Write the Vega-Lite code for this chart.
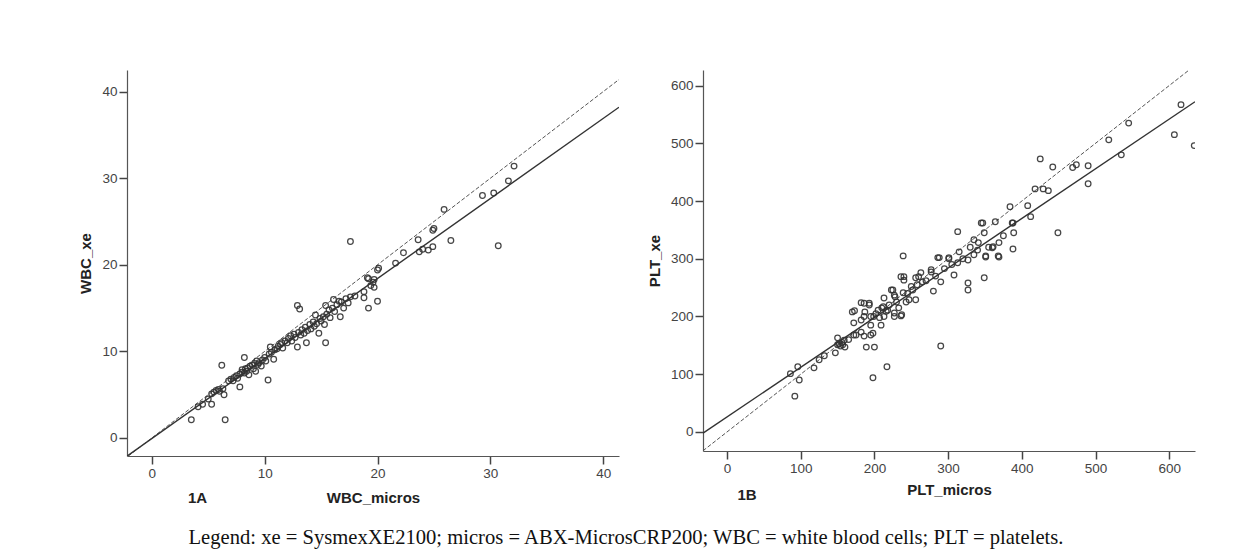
{
  "$schema": "https://vega.github.io/schema/vega-lite/v6.json",
  "padding": {"left": 78, "top": 70, "right": 5, "bottom": 5},
  "background": "white",
  "title": {"text": "Legend: xe = SysmexXE2100; micros = ABX-MicrosCRP200; WBC = white blood cells; PLT = platelets.", "orient": "bottom", "anchor": "middle", "dx": -11, "font": "Liberation Serif", "fontSize": 20.6, "fontWeight": "normal", "color": "#111", "offset": 22},
  "datasets": {
    "wbc": [
      {"micros":3.5,"xe":2.1},{"micros":4.1,"xe":3.6},{"micros":4.5,"xe":3.9},{"micros":5.0,"xe":4.5},{"micros":5.3,"xe":3.9},{"micros":5.3,"xe":5.1},{"micros":5.5,"xe":5.3},{"micros":5.7,"xe":5.5},{"micros":5.9,"xe":5.6},{"micros":6.0,"xe":5.4},{"micros":6.2,"xe":8.4},{"micros":6.4,"xe":5.0},{"micros":6.5,"xe":2.1},{"micros":6.3,"xe":5.7},{"micros":6.8,"xe":6.6},{"micros":7.0,"xe":6.8},{"micros":7.2,"xe":6.6},{"micros":7.3,"xe":7.0},{"micros":7.5,"xe":7.2},{"micros":7.6,"xe":6.9},{"micros":7.8,"xe":5.9},{"micros":7.8,"xe":7.4},{"micros":8.0,"xe":7.6},{"micros":8.0,"xe":7.9},{"micros":8.2,"xe":9.3},{"micros":8.2,"xe":7.5},{"micros":8.3,"xe":8.0},{"micros":8.4,"xe":7.7},{"micros":8.5,"xe":8.1},{"micros":8.6,"xe":7.3},{"micros":8.7,"xe":8.3},{"micros":8.9,"xe":8.4},{"micros":9.0,"xe":8.0},{"micros":9.1,"xe":8.6},{"micros":9.2,"xe":7.7},{"micros":9.3,"xe":8.9},{"micros":9.4,"xe":8.5},{"micros":9.5,"xe":8.7},{"micros":9.7,"xe":8.3},{"micros":9.8,"xe":9.0},{"micros":10.0,"xe":9.3},{"micros":10.1,"xe":8.9},{"micros":10.3,"xe":6.7},{"micros":10.4,"xe":9.7},{"micros":10.5,"xe":10.5},{"micros":10.6,"xe":9.9},{"micros":10.8,"xe":9.1},{"micros":10.9,"xe":10.2},{"micros":11.1,"xe":10.3},{"micros":11.2,"xe":10.6},{"micros":11.4,"xe":10.8},{"micros":11.5,"xe":11.0},{"micros":11.6,"xe":10.4},{"micros":11.8,"xe":11.2},{"micros":12.0,"xe":11.0},{"micros":12.1,"xe":11.5},{"micros":12.3,"xe":11.8},{"micros":12.4,"xe":11.2},{"micros":12.6,"xe":12.0},{"micros":12.7,"xe":11.6},{"micros":12.9,"xe":15.3},{"micros":13.1,"xe":14.9},{"micros":12.9,"xe":10.5},{"micros":13.0,"xe":12.2},{"micros":13.2,"xe":11.9},{"micros":13.3,"xe":12.5},{"micros":13.5,"xe":12.1},{"micros":13.6,"xe":12.8},{"micros":13.7,"xe":11.0},{"micros":13.8,"xe":12.4},{"micros":14.0,"xe":13.1},{"micros":14.1,"xe":12.6},{"micros":14.3,"xe":13.4},{"micros":14.4,"xe":12.9},{"micros":14.5,"xe":14.2},{"micros":14.6,"xe":13.2},{"micros":14.8,"xe":12.1},{"micros":14.9,"xe":13.8},{"micros":15.0,"xe":13.5},{"micros":15.2,"xe":14.0},{"micros":15.3,"xe":13.1},{"micros":15.4,"xe":15.3},{"micros":15.4,"xe":11.0},{"micros":15.5,"xe":14.3},{"micros":15.7,"xe":14.8},{"micros":15.8,"xe":13.9},{"micros":16.0,"xe":15.0},{"micros":16.1,"xe":16.0},{"micros":16.2,"xe":14.6},{"micros":16.4,"xe":15.4},{"micros":16.6,"xe":15.8},{"micros":16.7,"xe":14.0},{"micros":16.8,"xe":15.7},{"micros":17.0,"xe":15.0},{"micros":17.2,"xe":16.1},{"micros":17.4,"xe":15.6},{"micros":17.6,"xe":16.3},{"micros":17.6,"xe":22.7},{"micros":18.0,"xe":16.4},{"micros":18.8,"xe":16.9},{"micros":18.8,"xe":16.2},{"micros":19.1,"xe":18.5},{"micros":19.2,"xe":18.4},{"micros":19.2,"xe":15.0},{"micros":19.4,"xe":17.6},{"micros":19.6,"xe":18.0},{"micros":19.7,"xe":17.4},{"micros":19.7,"xe":18.3},{"micros":20.0,"xe":19.4},{"micros":20.0,"xe":15.8},{"micros":20.1,"xe":19.6},{"micros":21.6,"xe":20.2},{"micros":22.3,"xe":21.4},{"micros":23.6,"xe":22.9},{"micros":23.7,"xe":21.5},{"micros":24.0,"xe":21.8},{"micros":24.5,"xe":21.7},{"micros":24.9,"xe":22.1},{"micros":24.9,"xe":24.0},{"micros":25.0,"xe":24.2},{"micros":25.9,"xe":26.4},{"micros":26.5,"xe":22.8},{"micros":29.3,"xe":28.0},{"micros":30.3,"xe":28.3},{"micros":30.7,"xe":22.2},{"micros":31.6,"xe":29.7},{"micros":32.1,"xe":31.4}
    ],
    "wbcFit": [{"micros":-2.2,"xe":-2.1},{"micros":41.4,"xe":38.2}],
    "wbcId": [{"micros":-2.08,"xe":-2.08},{"micros":41.4,"xe":41.4}],
    "plt": [
      {"micros":86,"xe":101},{"micros":92,"xe":62},{"micros":96,"xe":113},{"micros":98,"xe":90},{"micros":118,"xe":111},{"micros":125,"xe":125},{"micros":132,"xe":132},{"micros":147,"xe":137},{"micros":150,"xe":151},{"micros":152,"xe":153},{"micros":154,"xe":149},{"micros":156,"xe":155},{"micros":150,"xe":163},{"micros":157,"xe":151},{"micros":159,"xe":159},{"micros":160,"xe":147},{"micros":165,"xe":160},{"micros":172,"xe":168},{"micros":172,"xe":189},{"micros":170,"xe":208},{"micros":173,"xe":210},{"micros":175,"xe":168},{"micros":182,"xe":173},{"micros":182,"xe":194},{"micros":182,"xe":224},{"micros":186,"xe":166},{"micros":186,"xe":200},{"micros":186,"xe":223},{"micros":187,"xe":208},{"micros":189,"xe":147},{"micros":193,"xe":220},{"micros":193,"xe":223},{"micros":195,"xe":168},{"micros":195,"xe":185},{"micros":195,"xe":200},{"micros":198,"xe":94},{"micros":198,"xe":171},{"micros":199,"xe":200},{"micros":200,"xe":147},{"micros":202,"xe":205},{"micros":205,"xe":211},{"micros":207,"xe":198},{"micros":209,"xe":185},{"micros":210,"xe":215},{"micros":212,"xe":217},{"micros":213,"xe":200},{"micros":213,"xe":232},{"micros":216,"xe":209},{"micros":217,"xe":113},{"micros":218,"xe":211},{"micros":220,"xe":220},{"micros":223,"xe":246},{"micros":225,"xe":246},{"micros":227,"xe":200},{"micros":227,"xe":206},{"micros":227,"xe":237},{"micros":228,"xe":234},{"micros":230,"xe":225},{"micros":233,"xe":215},{"micros":236,"xe":201},{"micros":236,"xe":269},{"micros":237,"xe":203},{"micros":239,"xe":241},{"micros":239,"xe":305},{"micros":240,"xe":263},{"micros":240,"xe":269},{"micros":243,"xe":225},{"micros":245,"xe":240},{"micros":247,"xe":229},{"micros":250,"xe":252},{"micros":252,"xe":246},{"micros":256,"xe":229},{"micros":256,"xe":267},{"micros":258,"xe":255},{"micros":260,"xe":269},{"micros":263,"xe":276},{"micros":265,"xe":260},{"micros":270,"xe":262},{"micros":277,"xe":277},{"micros":277,"xe":281},{"micros":280,"xe":244},{"micros":283,"xe":270},{"micros":286,"xe":302},{"micros":288,"xe":302},{"micros":290,"xe":149},{"micros":290,"xe":260},{"micros":295,"xe":283},{"micros":301,"xe":300},{"micros":301,"xe":302},{"micros":305,"xe":290},{"micros":308,"xe":272},{"micros":313,"xe":293},{"micros":313,"xe":347},{"micros":315,"xe":312},{"micros":320,"xe":300},{"micros":327,"xe":246},{"micros":327,"xe":258},{"micros":327,"xe":298},{"micros":330,"xe":320},{"micros":335,"xe":307},{"micros":335,"xe":333},{"micros":340,"xe":315},{"micros":341,"xe":328},{"micros":345,"xe":362},{"micros":347,"xe":362},{"micros":349,"xe":267},{"micros":349,"xe":345},{"micros":351,"xe":303},{"micros":351,"xe":305},{"micros":355,"xe":320},{"micros":360,"xe":319},{"micros":361,"xe":321},{"micros":364,"xe":364},{"micros":368,"xe":305},{"micros":369,"xe":303},{"micros":369,"xe":328},{"micros":375,"xe":340},{"micros":384,"xe":390},{"micros":387,"xe":362},{"micros":388,"xe":317},{"micros":388,"xe":362},{"micros":389,"xe":345},{"micros":408,"xe":392},{"micros":412,"xe":373},{"micros":418,"xe":421},{"micros":425,"xe":473},{"micros":429,"xe":421},{"micros":436,"xe":418},{"micros":442,"xe":459},{"micros":449,"xe":345},{"micros":469,"xe":458},{"micros":474,"xe":463},{"micros":490,"xe":430},{"micros":490,"xe":461},{"micros":518,"xe":506},{"micros":535,"xe":480},{"micros":545,"xe":535},{"micros":607,"xe":515},{"micros":616,"xe":567},{"micros":634,"xe":496}
    ],
    "pltFit": [{"micros":-32.6,"xe":-2},{"micros":635,"xe":572}],
    "pltId": [{"micros":-32.6,"xe":-32.6},{"micros":627,"xe":627}]
  },
  "spacing": 28,
  "hconcat": [
    {
      "width": 492,
      "height": 386,
      "title": {"text": "1A", "orient": "bottom", "anchor": "start", "dx": 109, "offset": -15, "font": "Liberation Sans", "fontSize": 15, "fontWeight": "bold", "color": "#222"},
      "encoding": {
        "x": {"field": "micros", "type": "quantitative", "scale": {"domain": [-2.2, 41.4], "nice": false, "zero": false}, "axis": {"title": "WBC_micros", "values": [0, 10, 20, 30, 40], "titlePadding": 11}},
        "y": {"field": "xe", "type": "quantitative", "scale": {"domain": [-2.08, 42.5], "nice": false, "zero": false}, "axis": {"title": "WBC_xe", "values": [0, 10, 20, 30, 40], "titlePadding": 8}}
      },
      "layer": [
        {"data": {"name": "wbcId"}, "mark": {"type": "line", "color": "#555", "strokeWidth": 1, "strokeDash": [4, 2], "clip": true}},
        {"data": {"name": "wbcFit"}, "mark": {"type": "line", "color": "#333", "strokeWidth": 1.4, "clip": true}},
        {"data": {"name": "wbc"}, "mark": {"type": "point", "shape": "circle", "filled": false, "size": 32, "stroke": "#333", "strokeWidth": 1.25, "opacity": 0.9}}
      ]
    },
    {
      "width": 492,
      "height": 381,
      "title": {"text": "1B", "orient": "bottom", "anchor": "start", "dx": 90, "offset": -10, "font": "Liberation Sans", "fontSize": 15, "fontWeight": "bold", "color": "#222"},
      "encoding": {
        "x": {"field": "micros", "type": "quantitative", "scale": {"domain": [-32.6, 635], "nice": false, "zero": false}, "axis": {"title": "PLT_micros", "values": [0, 100, 200, 300, 400, 500, 600], "titlePadding": 8}},
        "y": {"field": "xe", "type": "quantitative", "scale": {"domain": [-33, 627], "nice": false, "zero": false}, "axis": {"title": "PLT_xe", "values": [0, 100, 200, 300, 400, 500, 600], "titlePadding": 8}}
      },
      "layer": [
        {"data": {"name": "pltId"}, "mark": {"type": "line", "color": "#555", "strokeWidth": 1, "strokeDash": [4, 2], "clip": true}},
        {"data": {"name": "pltFit"}, "mark": {"type": "line", "color": "#333", "strokeWidth": 1.4, "clip": true}},
        {"data": {"name": "plt"}, "mark": {"type": "point", "shape": "circle", "filled": false, "size": 32, "stroke": "#333", "strokeWidth": 1.25, "opacity": 0.9, "clip": true}}
      ]
    }
  ],
  "config": {
    "view": {"stroke": null},
    "axis": {"grid": false, "domainColor": "#555", "domainWidth": 1.2, "tickColor": "#444", "tickWidth": 1.5, "tickSize": 8, "labelColor": "#444", "labelFont": "Liberation Sans", "labelFontSize": 13.5, "labelPadding": 2, "titleFont": "Liberation Sans", "titleFontSize": 15, "titleFontWeight": "bold", "titleColor": "#222"}
  }
}
